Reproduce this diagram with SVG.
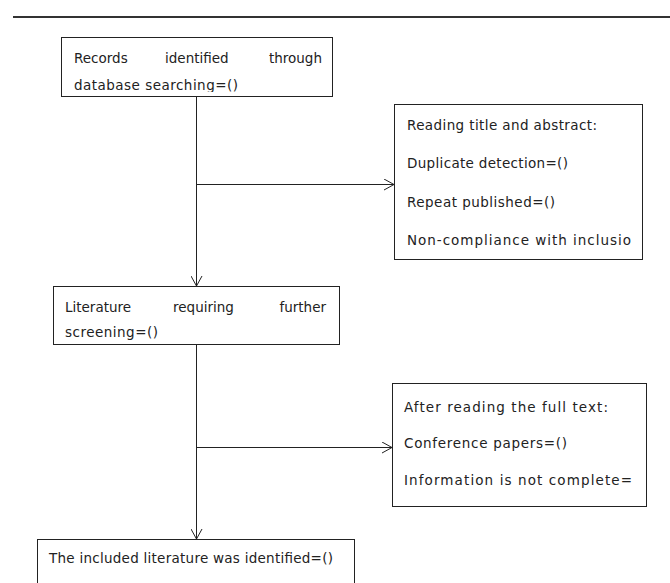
<svg xmlns="http://www.w3.org/2000/svg" width="670" height="583" viewBox="0 0 670 583">
<style>
.box{fill:#fff;stroke:#222;stroke-width:1}
.t{font-family:"DejaVu Sans",Verdana,sans-serif;font-size:13.5px;fill:#222}
.c{fill:none;stroke:#222;stroke-width:1}
</style>
<defs>
<marker id="arr" viewBox="0 0 10 12" refX="10" refY="6" markerWidth="10" markerHeight="12" markerUnits="userSpaceOnUse" orient="auto">
<polyline points="0,0.5 10,6 0,11.5" fill="none" stroke="#222" stroke-width="1"/>
</marker>
<clipPath id="c1"><rect x="61" y="37" width="271" height="55"/></clipPath>
<clipPath id="c3"><rect x="53" y="286" width="286" height="54"/></clipPath>
</defs>
<rect width="670" height="583" fill="#fff"/>
<line x1="13" y1="17" x2="670" y2="17" stroke="#333" stroke-width="2"/>
<g id="connectors">
<line class="c" x1="196.5" y1="96" x2="196.5" y2="286" marker-end="url(#arr)"/>
<line class="c" x1="196.5" y1="184.5" x2="394" y2="184.5" marker-end="url(#arr)"/>
<line class="c" x1="196.5" y1="344" x2="196.5" y2="539" marker-end="url(#arr)"/>
<line class="c" x1="196.5" y1="447.5" x2="392" y2="447.5" marker-end="url(#arr)"/>
</g>
<g id="records">
<rect class="box" x="61.5" y="37.5" width="271" height="59"/>
<g clip-path="url(#c1)">
<text class="t" x="74" y="63">Records</text>
<text class="t" x="165" y="63">identified</text>
<text class="t" x="322" y="63" text-anchor="end">through</text>
<text class="t" x="74" y="90" textLength="164">database searching=()</text>
</g>
</g>
<g id="title-abstract">
<rect class="box" x="394.5" y="104.5" width="248" height="155"/>
<text class="t" x="407" y="130" textLength="190">Reading title and abstract:</text>
<text class="t" x="407" y="168" textLength="161">Duplicate detection=()</text>
<text class="t" x="407" y="207" textLength="148">Repeat published=()</text>
<text class="t" x="407" y="245" textLength="224">Non-compliance with inclusio</text>
</g>
<g id="further-screening">
<rect class="box" x="53.5" y="286.5" width="286" height="58"/>
<g clip-path="url(#c3)">
<text class="t" x="65" y="312">Literature</text>
<text class="t" x="173" y="312">requiring</text>
<text class="t" x="326" y="312" text-anchor="end">further</text>
<text class="t" x="65" y="337" textLength="93">screening=()</text>
</g>
</g>
<g id="full-text">
<rect class="box" x="392.5" y="383.5" width="254" height="123"/>
<text class="t" x="404" y="412" textLength="204">After reading the full text:</text>
<text class="t" x="404" y="448" textLength="163">Conference papers=()</text>
<text class="t" x="404" y="485" textLength="228">Information is not complete=</text>
</g>
<g id="included">
<rect class="box" x="37.5" y="539.5" width="317" height="80"/>
<text class="t" x="49" y="563" textLength="284">The included literature was identified=()</text>
</g>
</svg>
